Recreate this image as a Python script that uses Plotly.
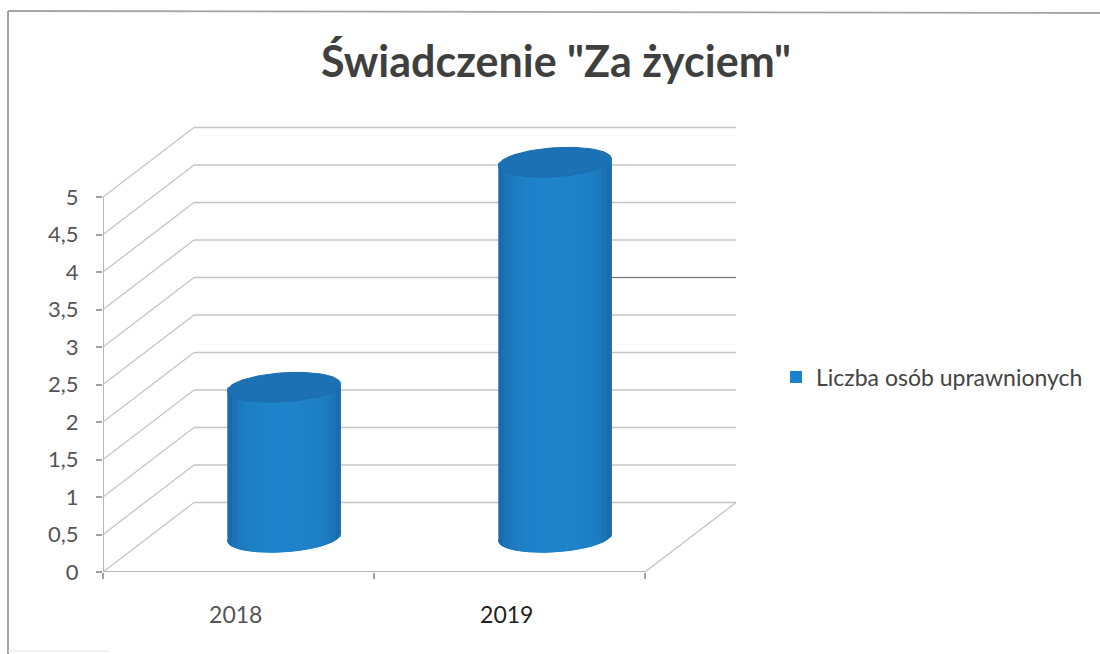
import numpy as np
import plotly.graph_objects as go

categories = ["2018", "2019"]
values = [2, 5]
y_ticks = [0, 0.5, 1, 1.5, 2, 2.5, 3, 3.5, 4, 4.5, 5]
y_labels = ["0", "0,5", "1", "1,5", "2", "2,5", "3", "3,5", "4", "4,5", "5"]
series_name = "Liczba osób uprawnionych"
title_text = 'Świadczenie "Za życiem"'

# layout in pixels of the plot area and oblique depth of the 3D box
L, R, T, B, W, H = 103, 350, 115, 82, 1100, 654
PW, PH = W - L - R, H - T - B
UX, UY = 271.0, 75.0
DX, DY = 91 / UX, 69.5 / UY
RX, RY = 56.5 / UX, 14.5 / UY
SKEW = 3.5 / UY
GRID = "#c4c4c4"
AXIS = "#a0a0a0"


def px(x):
    return (x - L) / PW


def py(y):
    return 1 - (y - T) / PH


fig = go.Figure()
centers = [i + 0.5 + DX / 2 for i in range(len(values))]

# real bars (also give the legend entry)
fig.add_bar(x=centers, y=values, base=DY / 2, width=2 * RX, name=series_name,
            marker=dict(color="#1b82cb", line_width=0), hoverinfo="skip")


def shade(u):
    # u in [-1, 1] across the cylinder
    e = abs(u) ** 4
    c0, c1 = np.array([0x1f, 0x84, 0xca]), np.array([0x1b, 0x68, 0xa8])
    c = c0 + (c1 - c0) * e
    return "rgb(%d,%d,%d)" % tuple(c)


t = np.linspace(0, 2 * np.pi, 80)
for cx, v in zip(centers, values):
    # bottom cap beneath the shaded strips
    fig.add_scatter(x=cx + RX * np.cos(t),
                    y=DY / 2 + RY * np.sin(t) + SKEW * np.cos(t),
                    mode="lines", fill="toself", fillcolor="#1f84ca",
                    line=dict(width=1, color="#1f8ad6"),
                    showlegend=False, hoverinfo="skip")
    edges = np.linspace(-1, 1, 25)
    for a, b in zip(edges[:-1], edges[1:]):
        us = np.linspace(a, b, 5)
        xs = cx + RX * us
        low = DY / 2 - RY * np.sqrt(1 - us ** 2) + SKEW * us
        up = DY / 2 + v + SKEW * us - RY * np.sqrt(1 - us ** 2)
        fig.add_scatter(x=np.r_[xs, xs[::-1]], y=np.r_[low, up[::-1]],
                        mode="lines", fill="toself", fillcolor=shade((a + b) / 2),
                        line=dict(width=0.8, color=shade((a + b) / 2)),
                        showlegend=False, hoverinfo="skip")
    fig.add_scatter(x=cx + RX * np.cos(t),
                    y=DY / 2 + v + RY * np.sin(t) + SKEW * np.cos(t),
                    mode="lines", fill="toself", fillcolor="#1c70b4",
                    line=dict(width=1, color="#1c6cae"),
                    showlegend=False, hoverinfo="skip")

shapes = []
x_end = len(categories)
for yt in y_ticks:
    shapes.append(dict(type="line", xref="x", yref="y", layer="below",
                       x0=0, y0=yt, x1=DX, y1=yt + DY, line=dict(color=GRID, width=1.3)))
    shapes.append(dict(type="line", xref="x", yref="y", layer="below",
                       x0=DX, y0=yt + DY, x1=x_end + DX, y1=yt + DY,
                       line=dict(color=GRID, width=1.5)))
# darker stretch of the value-3 gridline (scan artefact) right of the tall cylinder
shapes.append(dict(type="line", xref="x", yref="y", layer="below",
                   x0=centers[1] + RX, y0=3 + DY, x1=x_end + DX, y1=3 + DY,
                   line=dict(color="#777777", width=1.2)))
# floor right edge, and front axes
shapes.append(dict(type="line", xref="x", yref="y", layer="below",
                   x0=x_end, y0=0, x1=x_end + DX, y1=DY, line=dict(color=GRID, width=1.3)))
shapes.append(dict(type="line", xref="x", yref="y", layer="below",
                   x0=0, y0=0, x1=0, y1=max(y_ticks), line=dict(color=AXIS, width=1.5)))
shapes.append(dict(type="line", xref="x", yref="y", layer="below",
                   x0=0, y0=0, x1=x_end, y1=0, line=dict(color=AXIS, width=1.5)))
# outer frame of the scanned chart: top and left edges only
shapes.append(dict(type="line", xref="paper", yref="paper", layer="below",
                   x0=px(8), x1=px(1100), y0=py(11), y1=py(13),
                   line=dict(color="#a4a4a4", width=1.8)))
shapes.append(dict(type="line", xref="paper", yref="paper", layer="below",
                   x0=px(8), x1=px(8), y0=py(11), y1=py(654),
                   line=dict(color="#a4a4a4", width=2)))
shapes.append(dict(type="line", xref="paper", yref="paper", layer="below",
                   x0=px(8), x1=px(110), y0=py(651), y1=py(651),
                   line=dict(color="#e6e6e6", width=1)))

tick_colors = ["#555555", "#222222"]
fig.update_layout(
    width=W, height=H, autosize=False,
    margin=dict(l=L, r=R, t=T, b=B),
    paper_bgcolor="white", plot_bgcolor="white",
    font=dict(family="Lato", color="#555555"),
    title=dict(text=title_text, x=px(556), xanchor="center", xref="paper",
               y=1 - 62 / H, yanchor="middle",
               font=dict(family="Lato", size=43, color="#3f3f3f", weight="bold")),
    xaxis=dict(range=[0, PW / UX], tickvals=[0.49, 1.49],
               ticktext=['<span style="color:%s">%s</span>' % (c, s)
                         for c, s in zip(tick_colors, categories)],
               showgrid=False, zeroline=False, showline=False, ticks="",
               ticklabelstandoff=27, tickfont=dict(size=23),
               minor=dict(tickmode="array", tickvals=[0, 1, 2], ticks="outside",
                          ticklen=6, tickcolor=AXIS, tickwidth=1.5, showgrid=False)),
    yaxis=dict(range=[0, PH / UY], tickvals=y_ticks, ticktext=y_labels,
               showgrid=False, zeroline=False, showline=False, ticks="outside",
               ticklen=6, tickcolor=AXIS, tickwidth=1.5, ticklabelstandoff=13,
               tickfont=dict(size=22, color="#555555")),
    shapes=shapes,
    showlegend=True,
    legend=dict(x=px(776), y=py(377), xanchor="left", yanchor="middle",
                font=dict(size=23, color="#444444"), bgcolor="rgba(0,0,0,0)",
                itemwidth=30),
)
fig.write_html("out.html", config={"displayModeBar": False},
               post_script="document.body.style.margin='0';document.body.style.overflow='hidden';")
